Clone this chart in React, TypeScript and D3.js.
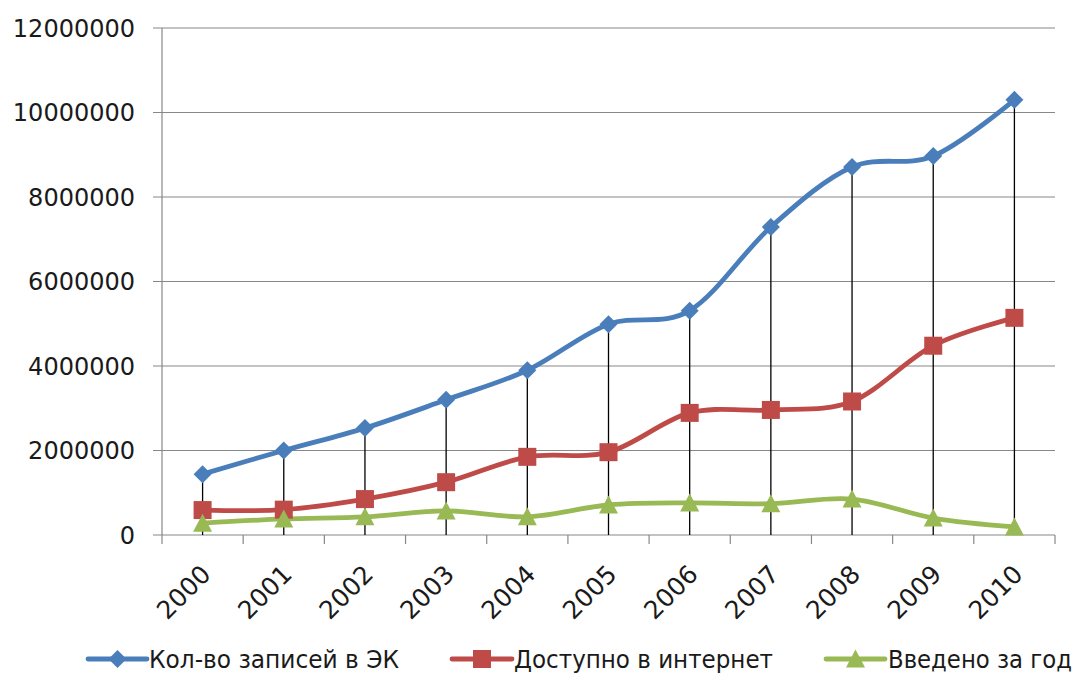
import React from 'react';
import * as d3 from 'd3';

// Chart data
const years = ['2000', '2001', '2002', '2003', '2004', '2005', '2006', '2007', '2008', '2009', '2010'];
const totalRecords = [1440000, 2000000, 2530000, 3200000, 3900000, 4990000, 5310000, 7290000, 8710000, 8970000, 10300000];
const onlineRecords = [590000, 600000, 850000, 1250000, 1850000, 1960000, 2890000, 2960000, 3160000, 4480000, 5140000];
const yearlyAdded = [280000, 380000, 430000, 570000, 430000, 710000, 760000, 740000, 850000, 400000, 190000];
const yTicks = [0, 2000000, 4000000, 6000000, 8000000, 10000000, 12000000];
const seriesNames = ['Кол-во записей в ЭК', 'Доступно в интернет', 'Введено за год'];

const W = 1074;
const H = 673;
const plot = { left: 162, right: 1055, top: 28, bottom: 535 };

const colors = ['#4A7EBB', '#BE4B48', '#98B954'];
const gridColor = '#888888';
const labelFont = '"DejaVu Sans", Verdana, sans-serif';
const legendFont = '"DejaVu Sans Condensed", "Liberation Sans Narrow", "Liberation Sans", sans-serif';

function Marker({ kind, x, y, color }: { kind: number; x: number; y: number; color: string }) {
  if (kind === 0) {
    const r = 9;
    return <path d={`M${x},${y - r}L${x + r},${y}L${x},${y + r}L${x - r},${y}Z`} fill={color} />;
  }
  if (kind === 1) {
    const s = 18;
    return <rect x={x - s / 2} y={y - s / 2} width={s} height={s} fill={color} />;
  }
  const w = 19;
  const h = 17;
  return <path d={`M${x},${y - h / 2 - 1}L${x + w / 2},${y + h / 2}L${x - w / 2},${y + h / 2}Z`} fill={color} />;
}

export default function App() {
  const x = d3.scaleBand<string>().domain(years).range([plot.left, plot.right]).paddingInner(0).paddingOuter(0);
  const cx = (yr: string) => (x(yr) ?? 0) + x.bandwidth() / 2;
  const y = d3.scaleLinear().domain([0, 12000000]).range([plot.bottom, plot.top]);

  const series = [totalRecords, onlineRecords, yearlyAdded];

  const line = d3
    .line<number>()
    .x((_, i) => cx(years[i]))
    .y((d) => y(d))
    .curve(d3.curveCatmullRom.alpha(0));

  const boundaries = [...years.map((yr) => x(yr) ?? 0), plot.right];

  const legendItems = [
    { x0: 88, x1: 147, tx: 149, tw: 250 },
    { x0: 452, x1: 512, tx: 514, tw: 259 },
    { x0: 826, x1: 885, tx: 888, tw: 184 },
  ];
  const legendY = 659;

  return (
    <svg
      width={W}
      height={H}
      style={{ position: 'absolute', left: 0, top: 0, background: '#fff' }}
    >
      {/* gridlines + y ticks */}
      {yTicks.map((t) => (
        <g key={t}>
          <line x1={plot.left - 9} x2={plot.right} y1={y(t)} y2={y(t)} stroke={gridColor} strokeWidth={1.2} />
          <text
            x={135}
            y={y(t)}
            dy="0.36em"
            textAnchor="end"
            fontFamily={labelFont}
            fontSize={24}
            fill="#1a1a1a"
          >
            {t}
          </text>
        </g>
      ))}

      {/* y axis */}
      <line x1={plot.left} x2={plot.left} y1={plot.top} y2={plot.bottom} stroke={gridColor} strokeWidth={1.2} />

      {/* x ticks */}
      {boundaries.map((bx, i) => (
        <line key={i} x1={bx} x2={bx} y1={plot.bottom} y2={plot.bottom + 9} stroke={gridColor} strokeWidth={1.2} />
      ))}

      {/* x labels */}
      {years.map((yr) => (
        <text
          key={yr}
          transform={`translate(${cx(yr) - 3},${plot.bottom + 28}) rotate(-45)`}
          textAnchor="end"
          dy="0.72em"
          fontFamily={labelFont}
          fontSize={25}
          fill="#1a1a1a"
        >
          {yr}
        </text>
      ))}

      {/* drop lines */}
      {years.map((yr, i) => (
        <line
          key={yr}
          x1={cx(yr)}
          x2={cx(yr)}
          y1={y(Math.max(totalRecords[i], onlineRecords[i], yearlyAdded[i]))}
          y2={plot.bottom}
          stroke="#000"
          strokeWidth={1.3}
        />
      ))}

      {/* series lines */}
      {series.map((s, k) => (
        <path key={k} d={line(s) ?? ''} fill="none" stroke={colors[k]} strokeWidth={4.8} strokeLinejoin="round" strokeLinecap="round" />
      ))}

      {/* markers */}
      {series.map((s, k) =>
        s.map((v, i) => <Marker key={`${k}-${i}`} kind={k} x={cx(years[i])} y={y(v)} color={colors[k]} />)
      )}

      {/* legend */}
      {legendItems.map((it, k) => (
        <g key={k}>
          <line x1={it.x0} x2={it.x1} y1={legendY} y2={legendY} stroke={colors[k]} strokeWidth={4.8} strokeLinecap="round" />
          <Marker kind={k} x={(it.x0 + it.x1) / 2} y={legendY} color={colors[k]} />
          <text
            x={it.tx}
            y={legendY}
            dy="0.36em"
            fontFamily={legendFont}
            fontSize={24}
            fill="#1a1a1a"
            textLength={it.tw}
            lengthAdjust="spacingAndGlyphs"
          >
            {seriesNames[k]}
          </text>
        </g>
      ))}
    </svg>
  );
}
